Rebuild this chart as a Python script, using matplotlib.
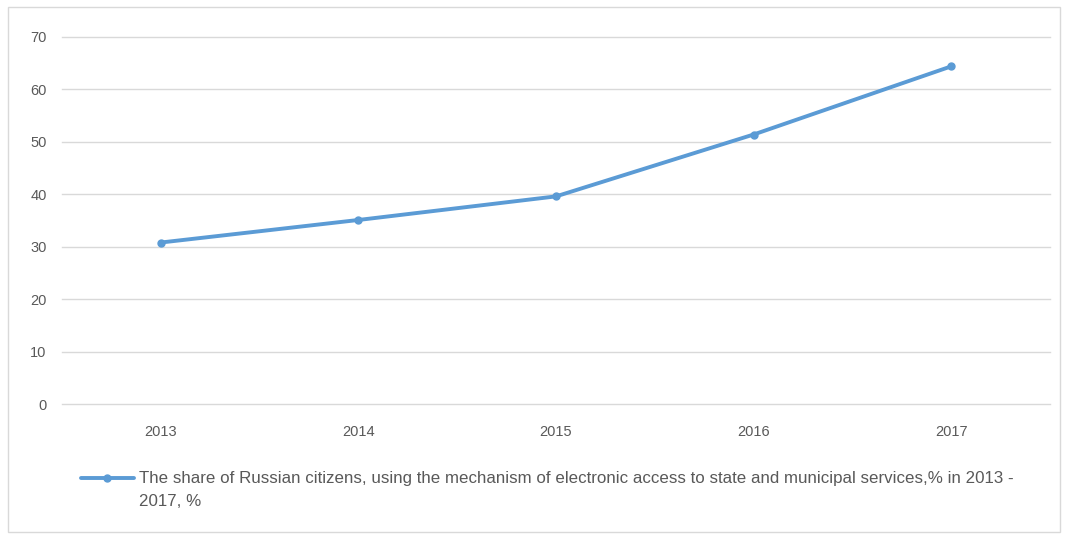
import matplotlib
matplotlib.use("Agg")
import matplotlib.pyplot as plt
from matplotlib.patches import Rectangle
from matplotlib.lines import Line2D

years = ["2013", "2014", "2015", "2016", "2017"]
share = [30.8, 35.1, 39.6, 51.4, 64.4]
yticks = [0, 10, 20, 30, 40, 50, 60, 70]
series_label = ("The share of Russian citizens, using the mechanism of electronic access to state and "
                "municipal services,% in 2013 -\n2017, %")

plt.rcParams['font.family'] = ["Liberation Sans", "DejaVu Sans"]
tick_fs, leg_fs = 10.5, 12.2

W, H = 1069, 535
fig = plt.figure(figsize=(W / 100, H / 100), dpi=100)
ax = fig.add_axes([62 / W, 1 - 404 / H, (1050 - 62) / W, (404 - 37) / H])

x = list(range(len(years)))
color = "#5B9BD5"
ax.plot(x, share, color=color, linewidth=2.8, marker="o", markersize=5,
        solid_capstyle="round", zorder=3)

ax.set_xlim(-0.5, len(years) - 0.5)
ax.set_ylim(0, 70)
ax.set_yticks(yticks)
ax.set_xticks(x)
ax.set_xticklabels(years)
for s in ax.spines.values():
    s.set_visible(False)
ax.grid(axis="y", color="#D9D9D9", linewidth=1)
for gl in ax.get_ygridlines():
    gl.set_clip_on(False)
ax.set_axisbelow(True)
ax.tick_params(axis="both", length=0, labelsize=tick_fs, colors="#595959")
ax.tick_params(axis="y", pad=11)
ax.tick_params(axis="x", pad=15)

# legend drawn manually
ly = 1 - 478 / H
fig.add_artist(Line2D([81 / W, 134 / W], [ly, ly], transform=fig.transFigure,
                      color=color, linewidth=2.8, solid_capstyle="round"))
fig.add_artist(Line2D([107 / W], [ly], transform=fig.transFigure, color=color,
                      marker="o", markersize=5, linestyle="none"))
fig.text(139 / W, 1 - 471 / H, series_label, ha="left", va="top", fontsize=leg_fs,
         color="#595959", linespacing=1.7)

fig.patches.append(Rectangle((8 / W, 1 - 532 / H), (1060 - 8) / W, (532 - 7) / H,
                             transform=fig.transFigure, fill=False, edgecolor="#D9D9D9", linewidth=1))

fig.savefig("out.png", dpi=100, facecolor="white")
